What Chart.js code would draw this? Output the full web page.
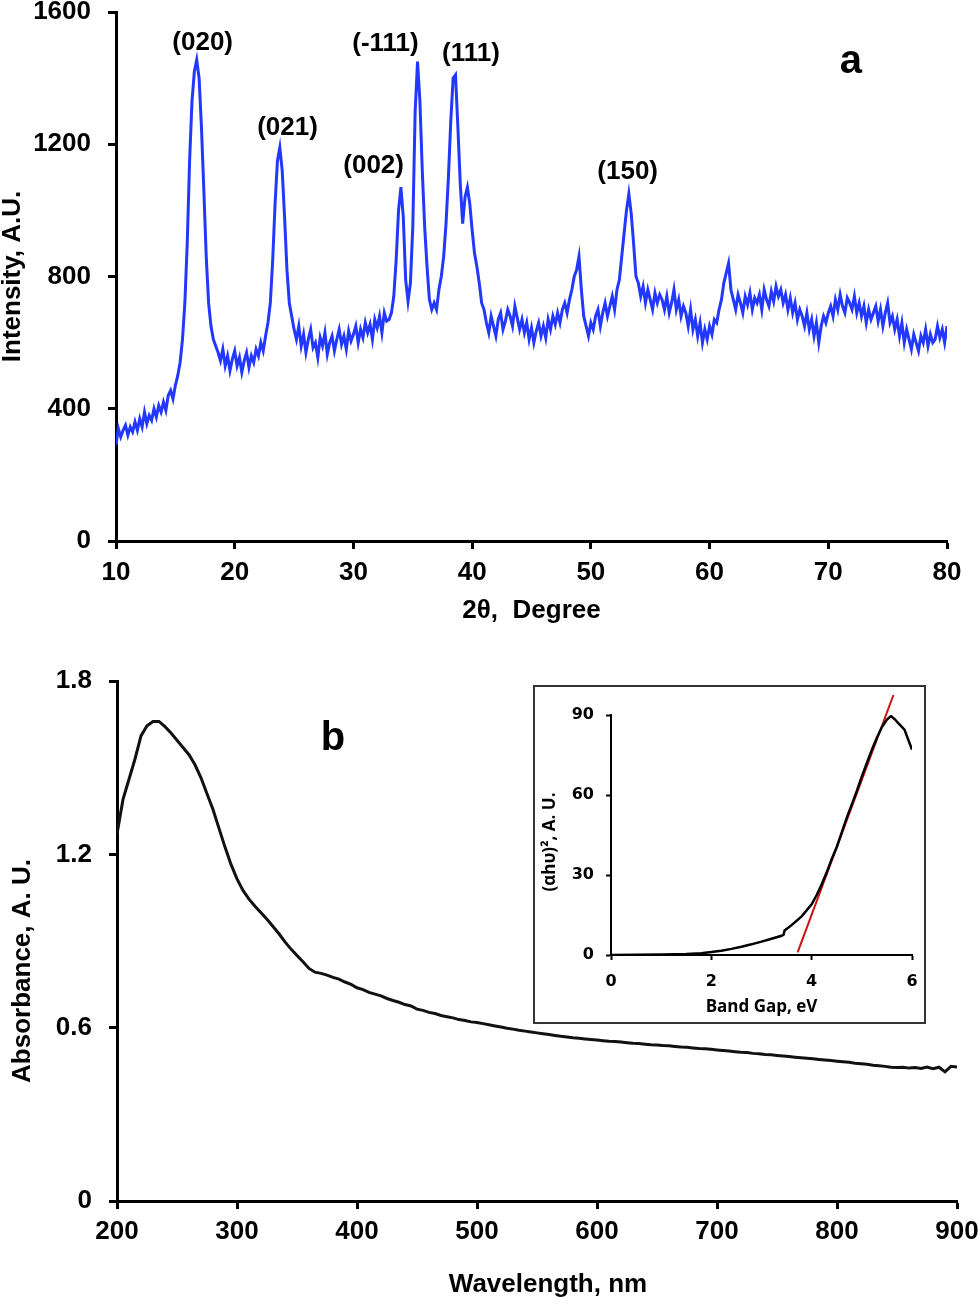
<!DOCTYPE html>
<html>
<head>
<meta charset="utf-8">
<title>XRD pattern and UV-vis absorbance</title>
<script src="https://cdn.jsdelivr.net/npm/chart.js@4.4.1/dist/chart.umd.min.js"></script>
<style>
  body { margin: 0; background: #fff; }
  #page { position: relative; width: 980px; height: 1304px; }
  #xrd { position: absolute; left: 0; top: 0; }
  #uv { position: absolute; left: 0; top: 640px; }
  #insetBox {
    position: absolute; left: 533px; top: 685px; width: 393px; height: 339px;
    border: 2px solid #333; box-sizing: border-box; background: #fff;
  }
  #inset { display: block; }
</style>
</head>
<body>
<div id="page">
  <canvas id="xrd" width="980" height="640"></canvas>
  <canvas id="uv" width="980" height="664"></canvas>
  <div id="insetBox"><canvas id="inset" width="389" height="335"></canvas></div>
</div>
<script>
// ===== DATA: XRD (a) =====
const xrdStart = 10;   // 2theta of first sample
const xrdStep = 0.2;   // sampling step, degree
const xrdIntensity = [
  290, 340, 315, 335, 350, 320, 345, 330, 360, 335,
  370, 345, 390, 355, 380, 365, 400, 375, 410, 390,
  420, 395, 440, 455, 430, 470, 500, 540, 610, 720,
  900, 1150, 1330, 1420, 1455, 1400, 1250, 1060, 860, 720,
  650, 610, 590, 570, 545, 580, 530, 560, 515, 550,
  575, 530, 555, 510, 545, 570, 525, 560, 540, 580,
  560, 600, 575, 620, 660, 720, 850, 1020, 1150, 1190,
  1120, 980, 820, 720, 680, 640, 610, 650, 590, 625,
  570, 610, 640, 585, 600, 555, 615, 590, 630, 565,
  600, 620, 575, 610, 640, 595, 620, 580, 635, 605,
  625, 650, 600, 640, 615, 660, 630, 655, 610, 670,
  645, 680, 630, 690, 665, 670, 690, 740, 850, 1000,
  1070, 980, 790, 725, 780, 950, 1300, 1450, 1330, 1120,
  950, 830, 730, 700, 720, 700, 760, 800, 860, 960,
  1100, 1270, 1400, 1410, 1250, 1080, 960, 1040, 1070, 1020,
  940, 870, 830, 780, 720, 700, 660, 630, 680, 650,
  620, 670, 690, 640, 665, 700, 680, 650, 710, 675,
  640, 670, 630, 660, 610, 645, 600, 635, 660, 620,
  650, 615, 670, 640, 680, 655, 690, 660, 700, 720,
  690, 730, 760, 800, 820, 860, 760, 680, 650, 620,
  660, 640, 680, 700, 650, 690, 720, 680, 710, 740,
  700, 760, 790, 860, 930, 1000, 1050, 990, 900, 800,
  780, 740, 770, 720, 760, 730, 700, 750, 720, 745,
  730, 700, 740, 690, 720, 760, 700, 730, 680, 710,
  690, 650, 700, 640, 670, 620, 660, 600, 640, 610,
  650, 625, 670, 660, 700, 730, 780, 810, 840, 760,
  730, 700, 745, 720, 690, 740, 715, 750, 700, 735,
  720, 745, 700, 760, 730, 710, 755, 725, 770, 740,
  760, 720, 745, 700, 735, 690, 720, 670, 700, 680,
  650, 690, 640, 670, 620, 660, 600, 650, 680, 660,
  690, 710, 680, 730, 700, 745, 710, 690, 735, 720,
  700, 740, 690, 720, 680, 710, 660, 700, 670, 690,
  710, 665, 700, 650, 690, 720, 660, 680, 640, 670,
  620, 660, 600, 640, 610, 580, 625, 600, 575, 620,
  600, 640, 590, 625, 600, 610, 650, 615, 640, 600,
  650
];
const peakLabels = ["(020)", "(021)", "(002)", "(-111)", "(111)", "(150)"];
const peakLabelAngle = [17.3, 24.45, 31.7, 32.7, 39.9, 53.1];
const peakLabelIntensity = [1507, 1250, 1135, 1505, 1475, 1117];

// ===== DATA: UV-vis (b) =====
const uvStart = 200;  // nm
const uvStep = 5;     // nm
const uvAbsorbance = [
  1.270, 1.390, 1.460, 1.530, 1.610, 1.645, 1.660, 1.660, 1.642, 1.620,
  1.595, 1.570, 1.545, 1.510, 1.465, 1.410, 1.355, 1.290, 1.225, 1.165,
  1.115, 1.075, 1.045, 1.020, 0.998, 0.975, 0.950, 0.925, 0.897, 0.872,
  0.850, 0.828, 0.805, 0.792, 0.788, 0.782, 0.774, 0.768, 0.758, 0.750,
  0.738, 0.732, 0.722, 0.716, 0.710, 0.701, 0.694, 0.688, 0.680, 0.675,
  0.664, 0.660, 0.653, 0.649, 0.642, 0.638, 0.634, 0.628, 0.625, 0.620,
  0.618, 0.614, 0.610, 0.606, 0.602, 0.598, 0.595, 0.591, 0.588, 0.585,
  0.582, 0.579, 0.576, 0.573, 0.570, 0.568, 0.565, 0.563, 0.561, 0.559,
  0.557, 0.555, 0.553, 0.552, 0.550, 0.548, 0.546, 0.545, 0.543, 0.541,
  0.540, 0.538, 0.537, 0.535, 0.533, 0.532, 0.530, 0.528, 0.527, 0.525,
  0.523, 0.521, 0.519, 0.517, 0.515, 0.514, 0.511, 0.510, 0.507, 0.506,
  0.504, 0.502, 0.500, 0.498, 0.496, 0.494, 0.492, 0.490, 0.488, 0.486,
  0.484, 0.482, 0.480, 0.477, 0.475, 0.473, 0.470, 0.468, 0.466, 0.463,
  0.462, 0.463, 0.460, 0.462, 0.459, 0.464, 0.458, 0.463, 0.447, 0.466,
  0.464
];

// ===== DATA: inset, band gap =====
const gapEnergy = [0, 0.5, 1.0, 1.5, 1.8, 2.0, 2.2, 2.4, 2.6, 2.8, 3.0, 3.2, 3.4, 3.44, 3.46,
  3.6, 3.8, 4.0, 4.1, 4.2, 4.3, 4.4, 4.5, 4.6, 4.7, 4.8, 4.9, 5.0, 5.1, 5.2, 5.3, 5.4,
  5.5, 5.58, 5.65, 5.75, 5.85, 5.92, 6.0];
const gapValue = [0, 0.05, 0.15, 0.4, 0.7, 1.1, 1.6, 2.3, 3.1, 4.0, 5.0, 6.1, 7.2, 7.6, 9.2,
  11.2, 14.5, 19.0, 22.5, 26.5, 31, 36, 40.5, 46, 51.5, 56.5, 61.5, 67, 72, 77, 81.5, 85.5,
  88.3, 89.6, 88.5, 86.5, 84.5, 81, 77];
const fitEnergy = [3.72, 5.63];
const fitValue = [1, 97.5];

// ===== SEGÉD: szövegek a tengelyek koordinátáiban =====
const textLabels = {
  id: "textLabels",
  afterDraw(chart, args, opts) {
    const ctx = chart.ctx;
    const xs = chart.scales.x, ys = chart.scales.y;
    ctx.save();
    ctx.fillStyle = "#000";
    ctx.textAlign = "center";
    ctx.textBaseline = "middle";
    (opts.items || []).forEach(it => {
      ctx.font = it.font;
      const px = it.px !== undefined ? it.px : xs.getPixelForValue(it.x);
      const py = it.py !== undefined ? it.py : ys.getPixelForValue(it.y);
      ctx.save();
      ctx.translate(px, py);
      if (it.rotate) ctx.rotate(it.rotate);
      ctx.fillText(it.text, 0, 0);
      ctx.restore();
    });
    ctx.restore();
  }
};

const ARIAL = "'Liberation Sans', Arial, sans-serif";
const boldArial = size => ({ family: ARIAL, size: size, weight: "bold" });

function axisBase(width, tick) {
  return {
    border: { display: true, color: "#000", width: width },
    grid: { drawOnChartArea: false, drawTicks: true, tickLength: tick, tickWidth: width, tickColor: "#000" }
  };
}

// ===== (a) XRD =====
const xrdPoints = xrdIntensity.map((v, i) => ({ x: +(xrdStart + i * xrdStep).toFixed(1), y: v }));
const peakItems = peakLabels.map((t, i) => ({
  text: t, x: peakLabelAngle[i], y: peakLabelIntensity[i], font: "bold 26px " + ARIAL
}));
peakItems.push({ text: "a", x: 71.9, y: 1450, font: "bold 40px " + ARIAL });

new Chart(document.getElementById("xrd"), {
  type: "line",
  data: {
    datasets: [{
      data: xrdPoints,
      borderColor: "#2338ff",
      borderWidth: 3,
      pointRadius: 0,
      tension: 0
    }]
  },
  options: {
    responsive: false,
    animation: false,
    events: [],
    layout: { padding: { top: 12, right: 33, left: 0, bottom: 0 } },
    plugins: {
      legend: { display: false },
      tooltip: { enabled: false },
      textLabels: { items: peakItems }
    },
    scales: {
      x: Object.assign(axisBase(3, 8), {
        type: "linear", min: 10, max: 80,
        ticks: { stepSize: 10, color: "#000", font: boldArial(26), padding: 8, maxRotation: 0 },
        title: { display: true, text: "2θ,  Degree", color: "#000",
          font: Object.assign(boldArial(26), { lineHeight: 1 }), padding: { top: 0, bottom: 16 } },
        afterFit: s => { s.height = 99; s.paddingLeft = 0; s.paddingRight = 0; }
      }),
      y: Object.assign(axisBase(3, 8), {
        min: 0, max: 1600,
        ticks: { stepSize: 400, color: "#000", font: boldArial(26), padding: 17, callback: v => String(v) },
        title: { display: true, text: "Intensity, A.U.", color: "#000",
          font: Object.assign(boldArial(26), { lineHeight: 1 }), padding: { top: 0, bottom: 0 } },
        afterFit: s => { s.width = 116; s.paddingTop = 0; s.paddingBottom = 0; }
      })
    }
  },
  plugins: [textLabels]
});

// ===== (b) UV-vis =====
const uvPoints = uvAbsorbance.map((v, i) => ({ x: uvStart + i * uvStep, y: v }));

new Chart(document.getElementById("uv"), {
  type: "line",
  data: {
    datasets: [{
      data: uvPoints,
      borderColor: "#111",
      borderWidth: 3,
      pointRadius: 0,
      tension: 0
    }]
  },
  options: {
    responsive: false,
    animation: false,
    events: [],
    layout: { padding: { top: 41, right: 23, left: 0, bottom: 0 } },
    plugins: {
      legend: { display: false },
      tooltip: { enabled: false },
      textLabels: {
        items: [
          { text: "b", x: 380, y: 1.6, font: "bold 40px " + ARIAL },
          { text: "Absorbance, A. U.", px: 23, py: 331, rotate: -Math.PI / 2, font: "bold 26px " + ARIAL },
          { text: "Wavelength, nm", px: 548, py: 645, font: "bold 26px " + ARIAL }
        ]
      }
    },
    scales: {
      x: Object.assign(axisBase(3, 8), {
        type: "linear", min: 200, max: 900,
        ticks: { stepSize: 100, color: "#000", font: boldArial(26), padding: 7, maxRotation: 0 },
        afterFit: s => { s.height = 103; s.paddingLeft = 0; s.paddingRight = 0; }
      }),
      y: Object.assign(axisBase(3, 8), {
        min: 0, max: 1.8,
        ticks: { stepSize: 0.6, color: "#000", font: boldArial(26), padding: 17,
          callback: v => v === 0 ? "0" : v.toFixed(1) },
        afterFit: s => { s.width = 117; s.paddingTop = 0; s.paddingBottom = 0; }
      })
    }
  },
  plugins: [textLabels]
});

// ===== inset: (αhυ)² vs band gap =====
const gapPoints = gapEnergy.map((e, i) => ({ x: e, y: gapValue[i] }));
const fitPoints = fitEnergy.map((e, i) => ({ x: e, y: fitValue[i] }));
const VERD = "'DejaVu Sans', Verdana, sans-serif";
const SANS = "'Open Sans', Lato, sans-serif";

new Chart(document.getElementById("inset"), {
  type: "line",
  data: {
    datasets: [
      { data: gapPoints, borderColor: "#000", borderWidth: 2.5, pointRadius: 0, tension: 0 },
      { data: fitPoints, borderColor: "#cc1111", borderWidth: 2, pointRadius: 0, tension: 0, clip: false }
    ]
  },
  options: {
    responsive: false,
    animation: false,
    events: [],
    layout: { padding: { top: 28, right: 12, left: 0, bottom: 0 } },
    plugins: {
      legend: { display: false },
      tooltip: { enabled: false },
      textLabels: {
        items: [
          { text: "(αhυ)², A. U.", px: 15, py: 155, rotate: -Math.PI / 2, font: "bold 17px " + SANS }
        ]
      }
    },
    scales: {
      x: Object.assign(axisBase(2, 5), {
        type: "linear", min: 0, max: 6,
        ticks: { stepSize: 2, color: "#000", font: { family: VERD, size: 16, weight: "bold" }, padding: 12, maxRotation: 0 },
        title: { display: true, text: "Band Gap, eV", color: "#000",
          font: { family: SANS, size: 17, weight: "bold", lineHeight: 1 }, padding: { top: 0, bottom: 6 } },
        afterFit: s => { s.height = 67; s.paddingLeft = 0; s.paddingRight = 0; }
      }),
      y: Object.assign(axisBase(2, 5), {
        min: 0, max: 90,
        ticks: { stepSize: 30, color: "#000", font: { family: VERD, size: 16, weight: "bold" }, padding: 12 },
        afterFit: s => { s.width = 76; s.paddingTop = 0; s.paddingBottom = 0; }
      })
    }
  },
  plugins: [textLabels]
});
</script>
</body>
</html>
